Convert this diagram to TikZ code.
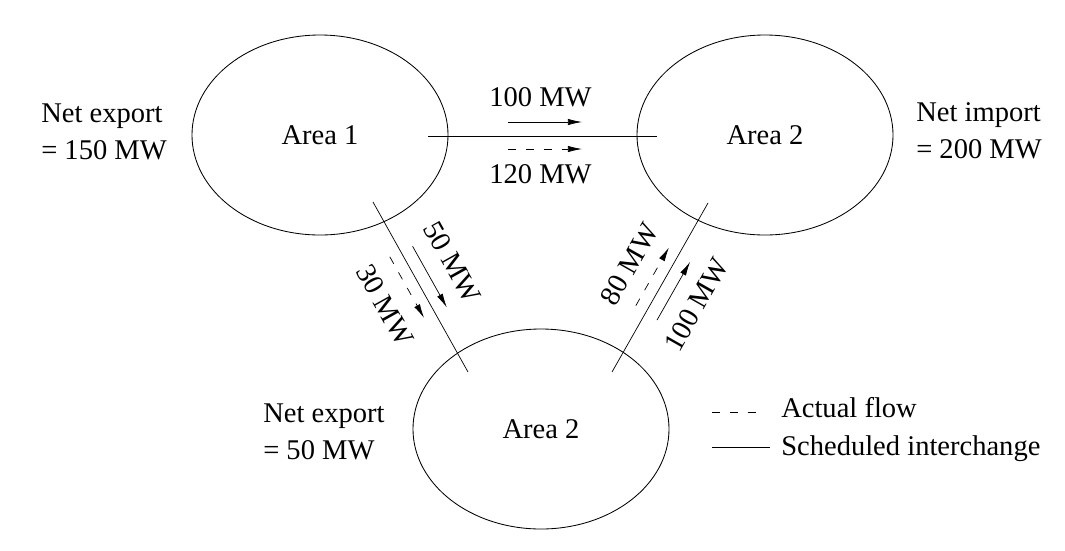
\documentclass[tikz,border=0pt]{standalone}
\usepackage{fontspec}
\setmainfont{Liberation Serif}
\usetikzlibrary{shapes.geometric,arrows.meta}
\tikzset{
  area/.style={draw,ellipse,line width=0.6pt,minimum width=64mm,minimum height=50mm,inner sep=0pt},
  sched/.style={line width=0.5pt},
  actual/.style={line width=0.5pt,dash pattern=on 5.7pt off 7pt},
  lbl/.style={inner sep=0pt}
}
\begin{document}
\begin{tikzpicture}[x=0.25mm,y=-0.25mm,>={Latex[length=10pt,width=4.5pt]},font=\fontsize{20.3}{26.3}\selectfont]
   \useasboundingbox (0,0) rectangle (1065,550);
   %areas
   \node[area] (a1) at (320,135) {Area 1};
   \node[area] (a2) at (765,135) {Area 2};
   \node[area] (a3) at (541,429) {Area 2};
   %net values
   \node[lbl,anchor=west,align=left] (exp1) at (41,132) {Net export\\= 150 MW};
   \node[lbl,anchor=west,align=left] (imp2) at (916,131) {Net import\\= 200 MW};
   \node[lbl,anchor=west,align=left] (exp3) at (263,432) {Net export\\= 50 MW};
   %tie lines
   \coordinate (h0) at (428,136);
   \coordinate (h1) at (657,136);
   \coordinate (l0) at (373,202);
   \coordinate (l1) at (468,372);
   \coordinate (r0) at (708,203);
   \coordinate (r1) at (612,372);
   \draw[sched] (h0) -- (h1);
   \draw[sched] (l0) -- (l1);
   \draw[sched] (r0) -- (r1);
   %area 1 to area 2
   \coordinate (hs0) at (508,122);
   \coordinate (hs1) at (582,122);
   \coordinate (ha0) at (508,149);
   \coordinate (ha1) at (582,149);
   \draw[sched,->] (hs0) -- (hs1);
   \draw[actual,->] (ha0) -- (ha1);
   \node[lbl] (h100) at (540.5,97) {100 MW};
   \node[lbl] (h120) at (540.5,174) {120 MW};
   %area 1 to area 3
   \coordinate (ls0) at (412.6,246.3);
   \coordinate (ls1) at (446.8,307.4);
   \coordinate (la0) at (389.8,256.8);
   \coordinate (la1) at (424,317.9);
   \draw[sched,->] (ls0) -- (ls1);
   \draw[actual,->] (la0) -- (la1);
   \node[lbl,rotate=-60.8] (l50) at (452.3,261.9) {50 MW};
   \node[lbl,rotate=-60.8] (l30) at (384.9,305.3) {30 MW};
   %area 3 to area 2
   \coordinate (rs0) at (657,320.1);
   \coordinate (rs1) at (690.1,261.8);
   \coordinate (ra0) at (635.8,305.7);
   \coordinate (ra1) at (668.9,247.5);
   \draw[sched,->] (rs0) -- (rs1);
   \draw[actual,->] (ra0) -- (ra1);
   \node[lbl,rotate=60.4] (r80) at (629.6,264.2) {80 MW};
   \node[lbl,rotate=60.4] (r100) at (696.4,304.5) {100 MW};
   %legend
   \coordinate (ka0) at (712,412);
   \coordinate (ka1) at (762,412);
   \coordinate (ks0) at (712,447);
   \coordinate (ks1) at (770,447);
   \draw[actual] (ka0) -- (ka1);
   \draw[sched] (ks0) -- (ks1);
   \node[lbl,anchor=base west] (kact) at (781,417) {Actual flow};
   \node[lbl,anchor=base west] (ksch) at (781,455) {Scheduled interchange};
\end{tikzpicture}
\end{document}
